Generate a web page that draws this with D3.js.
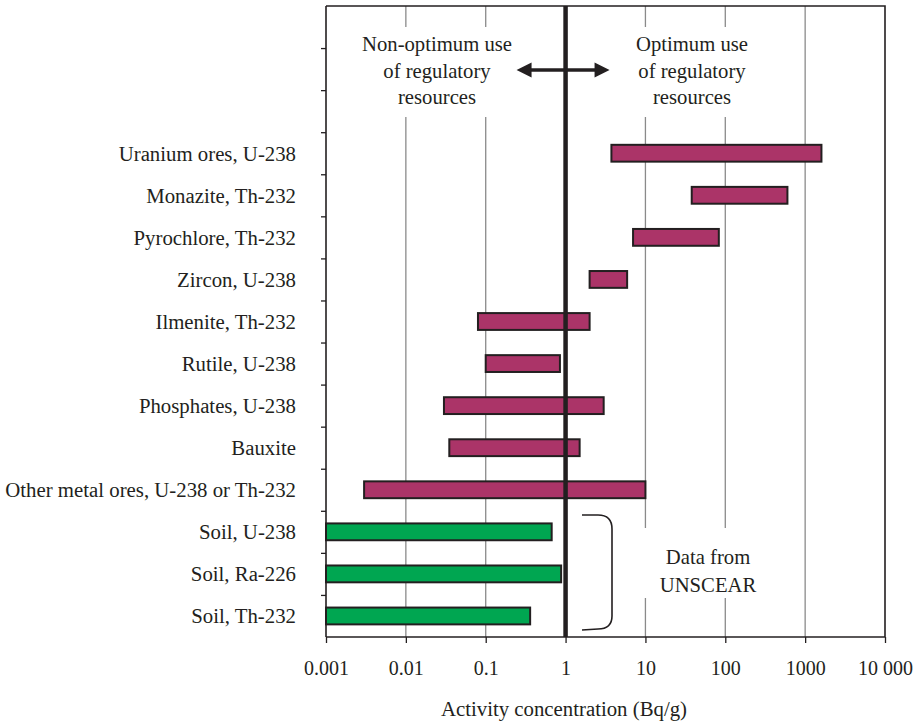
<!DOCTYPE html>
<html>
<head>
<meta charset="utf-8">
<script src="https://cdn.jsdelivr.net/npm/d3@7"></script>
<style>
  body { margin: 0; background: #fff; }
  svg { display: block; }
  text { font-family: "Liberation Serif", "Times New Roman", serif; fill: #231f20; }
</style>
</head>
<body>
<svg id="chart" width="920" height="723"></svg>
<script>
// ---- data ----
const categories = [
  "Uranium ores, U-238",
  "Monazite, Th-232",
  "Pyrochlore, Th-232",
  "Zircon, U-238",
  "Ilmenite, Th-232",
  "Rutile, U-238",
  "Phosphates, U-238",
  "Bauxite",
  "Other metal ores, U-238 or Th-232",
  "Soil, U-238",
  "Soil, Ra-226",
  "Soil, Th-232"
];
const lowValues  = [3.75, 38, 7, 2, 0.08, 0.1, 0.03, 0.035, 0.003, 0.001, 0.001, 0.001];
const highValues = [1600, 600, 83, 5.9, 2, 0.85, 3, 1.5, 10, 0.67, 0.88, 0.36];
const groups     = ["ore","ore","ore","ore","ore","ore","ore","ore","ore","soil","soil","soil"];
const tickValues = [0.001, 0.01, 0.1, 1, 10, 100, 1000, 10000];
const tickLabels = ["0.001", "0.01", "0.1", "1", "10", "100", "1000", "10 000"];
const emptyRowsTop = 3;
const totalRows = emptyRowsTop + categories.length;
const thresholdValue = 1;

(function () {
const colors = { ore: "#ab3468", soil: "#00a651" };
const ink = "#231f20";

const svg = d3.select("#chart");
const pLeft = 326, pRight = 885, pTop = 6, pBottom = 637;

const x = d3.scaleLog().domain([0.001, 10000]).range([pLeft, pRight]);
const yRow = d3.scaleLinear().domain([0, totalRows]).range([pTop, pBottom]);
const y = d3.scaleBand()
  .domain(categories)
  .range([yRow(emptyRowsTop), yRow(totalRows)])
  .paddingInner(0.6).paddingOuter(0.3);

// gridlines
svg.append("g").selectAll("line")
  .data(tickValues.slice(1, -1))
  .join("line")
  .attr("x1", d => x(d)).attr("x2", d => x(d))
  .attr("y1", pTop).attr("y2", pBottom)
  .attr("stroke", "#8a8a8a").attr("stroke-width", 1.3);

// white boxes behind annotation text (interrupt gridlines)
const boxes = [
  { x0: 0.004, x1: 0.4, y0: 27, y1: 117 },
  { x0: 5, x1: 300, y0: 27, y1: 117 },
  { x0: 5, x1: 300, y0: 528, y1: 598 }
];
svg.append("g").selectAll("rect")
  .data(boxes).join("rect")
  .attr("x", d => x(d.x0)).attr("width", d => x(d.x1) - x(d.x0))
  .attr("y", d => d.y0).attr("height", d => d.y1 - d.y0)
  .attr("fill", "#fff");

// annotation texts
const annotLeft = ["Non-optimum use", "of regulatory", "resources"];
const annotRight = ["Optimum use", "of regulatory", "resources"];
const annotFont = 20.7;
svg.append("g").selectAll("text").data(annotLeft).join("text")
  .attr("x", 437).attr("y", (d, i) => 51 + i * 26.5)
  .attr("text-anchor", "middle").attr("font-size", annotFont).text(d => d);
svg.append("g").selectAll("text").data(annotRight).join("text")
  .attr("x", 692).attr("y", (d, i) => 51 + i * 26.5)
  .attr("text-anchor", "middle").attr("font-size", annotFont).text(d => d);
svg.append("g").selectAll("text").data(["Data from", "UNSCEAR"]).join("text")
  .attr("x", 708).attr("y", (d, i) => 564 + i * 28)
  .attr("text-anchor", "middle").attr("font-size", annotFont).text(d => d);

// bars
svg.append("g").selectAll("rect")
  .data(categories)
  .join("rect")
  .attr("x", (d, i) => x(lowValues[i]))
  .attr("width", (d, i) => x(highValues[i]) - x(lowValues[i]))
  .attr("y", d => y(d))
  .attr("height", y.bandwidth())
  .attr("fill", (d, i) => colors[groups[i]])
  .attr("stroke", ink).attr("stroke-width", 2);

// thick threshold line
svg.append("line")
  .attr("x1", x(thresholdValue)).attr("x2", x(thresholdValue))
  .attr("y1", pTop).attr("y2", pBottom)
  .attr("stroke", ink).attr("stroke-width", 4.5);

// double arrow
const ay = 70;
const tipL = x(thresholdValue) - 49, tipR = x(thresholdValue) + 44;
svg.append("line").attr("x1", tipL + 10).attr("x2", tipR - 10)
  .attr("y1", ay).attr("y2", ay).attr("stroke", ink).attr("stroke-width", 3.5);
svg.append("path")
  .attr("d", `M${tipL},${ay} L${tipL + 15},${ay - 7.5} L${tipL + 15},${ay + 7.5} Z`)
  .attr("fill", ink);
svg.append("path")
  .attr("d", `M${tipR},${ay} L${tipR - 15},${ay - 7.5} L${tipR - 15},${ay + 7.5} Z`)
  .attr("fill", ink);

// bracket
svg.append("path")
  .attr("d", "M582,515 L598,515 Q612,515 612,529 L612,616 Q612,629 598,629 L582,630")
  .attr("fill", "none").attr("stroke", ink).attr("stroke-width", 1.6);

// top and right border
svg.append("path")
  .attr("d", `M${pLeft},${pTop} L${pRight},${pTop} L${pRight},${pBottom}`)
  .attr("fill", "none").attr("stroke", ink).attr("stroke-width", 1.6);

// left axis (row ticks)
const yAxis = svg.append("g").attr("transform", `translate(${pLeft},0)`)
  .call(d3.axisLeft(yRow).tickValues(d3.range(1, totalRows)).tickSize(5).tickFormat(""));
yAxis.select(".domain").attr("stroke", ink).attr("stroke-width", 1.6).attr("d", `M0,${pTop}V${pBottom}`);
yAxis.selectAll(".tick line").attr("stroke", ink).attr("stroke-width", 1.3);

// category labels
svg.append("g").selectAll("text")
  .data(categories).join("text")
  .attr("x", 296)
  .attr("y", d => y(d) + y.bandwidth() / 2)
  .attr("dy", "0.36em")
  .attr("text-anchor", "end")
  .attr("font-size", 20.8)
  .text(d => d);

// bottom axis
const xAxis = svg.append("g").attr("transform", `translate(0,${pBottom})`)
  .call(d3.axisBottom(x).tickValues(tickValues).tickSize(6)
    .tickFormat((d, i) => tickLabels[i]));
xAxis.select(".domain").attr("stroke", ink).attr("stroke-width", 1.6).attr("d", `M${pLeft},0H${pRight}`);
xAxis.selectAll(".tick line").attr("stroke", ink).attr("stroke-width", 1.3);
xAxis.selectAll(".tick text")
  .attr("y", 38).attr("dy", null)
  .attr("font-size", 20).attr("font-family", "Liberation Serif, serif").attr("fill", ink);

// axis title
svg.append("text")
  .attr("x", 564).attr("y", 716)
  .attr("text-anchor", "middle").attr("font-size", 20.8)
  .text("Activity concentration (Bq/g)");
})();
</script>
</body>
</html>
